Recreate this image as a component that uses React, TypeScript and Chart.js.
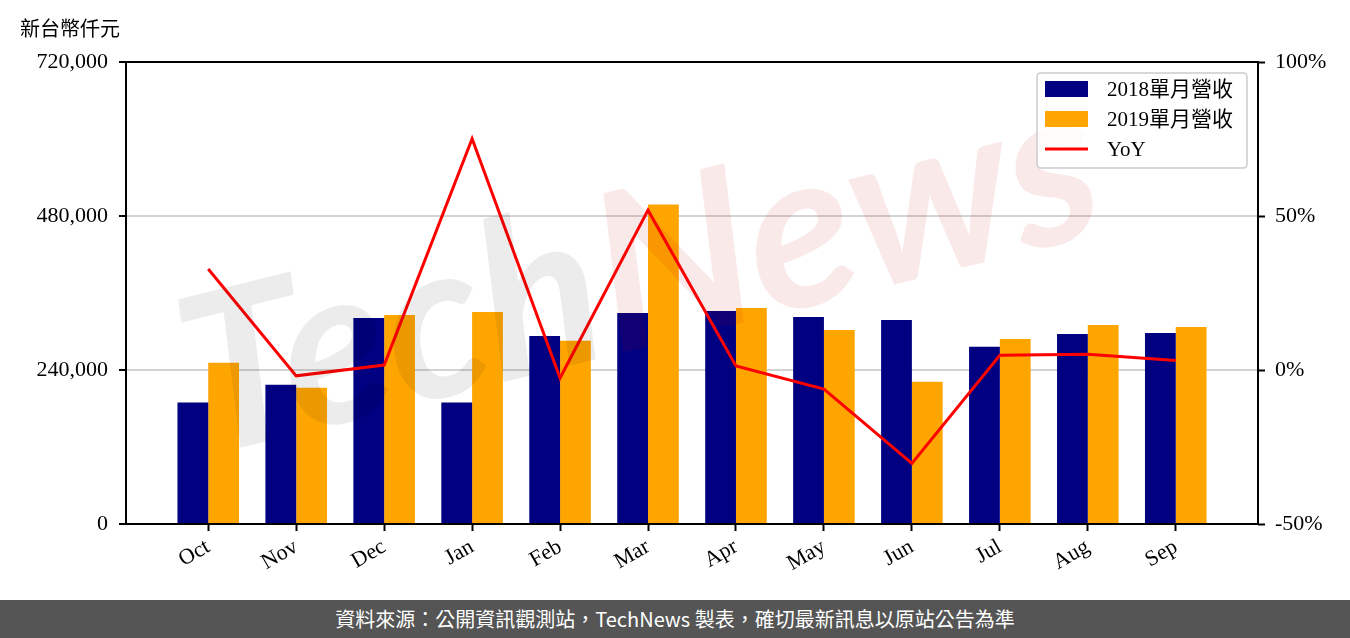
import React, { useEffect, useRef } from 'react';
import { Chart, registerables } from 'chart.js';

Chart.register(...registerables);

const MONTHS = ['Oct', 'Nov', 'Dec', 'Jan', 'Feb', 'Mar', 'Apr', 'May', 'Jun', 'Jul', 'Aug', 'Sep'];
const REV_2018 = [189200, 217100, 321100, 189200, 293100, 328800, 331900, 322600, 318000, 276100, 296200, 297800];
const REV_2019 = [251300, 212500, 325700, 330400, 285400, 497900, 336600, 302400, 221800, 288500, 310200, 307100];
const YOY = [32.8, -1.9, 1.6, 75.1, -2.6, 51.9, 1.3, -6.2, -30.3, 4.8, 5.1, 3.1];
const LEFT_TICKS = [0, 240000, 480000, 720000];
const RIGHT_TICKS = [-50, 0, 50, 100];
const SERIES_LABELS = ['2018單月營收', '2019單月營收', 'YoY'];
const UNIT_LABEL = '新台幣仟元';
const FOOTER_TEXT = '資料來源：公開資訊觀測站，TechNews 製表，確切最新訊息以原站公告為準';

const SERIF = "'Liberation Serif', 'Noto Sans CJK TC', serif";
const SANS = "'Noto Sans CJK TC', 'Noto Sans', sans-serif";

const watermarkPlugin = {
  id: 'watermark',
  afterDatasetsDraw(chart: any) {
    const { ctx, chartArea } = chart;
    ctx.save();
    ctx.beginPath();
    ctx.rect(chartArea.left, chartArea.top, chartArea.right - chartArea.left, chartArea.bottom - chartArea.top);
    ctx.clip();
    ctx.translate(640, 275);
    ctx.rotate((-14 * Math.PI) / 180);
    ctx.font = "italic bold 220px 'Lato', sans-serif";
    ctx.textBaseline = 'middle';
    const w1 = ctx.measureText('Tech').width;
    const w2 = ctx.measureText('News').width;
    const start = -(w1 + w2) / 2;
    ctx.fillStyle = 'rgba(0,0,0,0.075)';
    ctx.fillText('Tech', start, 0);
    ctx.fillStyle = 'rgba(200,0,0,0.085)';
    ctx.fillText('News', start + w1, 0);
    ctx.restore();
  },
};

const framePlugin = {
  id: 'frame',
  afterDatasetsDraw(chart: any) {
    const { ctx, chartArea } = chart;
    ctx.save();
    ctx.strokeStyle = '#000';
    ctx.lineWidth = 2;
    ctx.strokeRect(chartArea.left, chartArea.top, chartArea.right - chartArea.left, chartArea.bottom - chartArea.top);
    ctx.restore();
  },
};

const legendPlugin = {
  id: 'boxLegend',
  afterDraw(chart: any) {
    const { ctx, chartArea } = chart;
    const w = 210;
    const h = 95;
    const x = chartArea.right - 11 - w;
    const y = chartArea.top + 11;
    ctx.save();
    ctx.beginPath();
    const r = 4;
    ctx.moveTo(x + r, y);
    ctx.lineTo(x + w - r, y);
    ctx.quadraticCurveTo(x + w, y, x + w, y + r);
    ctx.lineTo(x + w, y + h - r);
    ctx.quadraticCurveTo(x + w, y + h, x + w - r, y + h);
    ctx.lineTo(x + r, y + h);
    ctx.quadraticCurveTo(x, y + h, x, y + h - r);
    ctx.lineTo(x, y + r);
    ctx.quadraticCurveTo(x, y, x + r, y);
    ctx.closePath();
    ctx.fillStyle = 'rgba(255,255,255,0.8)';
    ctx.fill();
    ctx.strokeStyle = '#cccccc';
    ctx.lineWidth = 1.5;
    ctx.stroke();
    ctx.font = `21px ${SERIF}`;
    ctx.textBaseline = 'middle';
    ctx.fillStyle = '#000';
    chart.data.datasets.forEach((ds: any, i: number) => {
      const cy = y + 16 + i * 30;
      if (ds.type === 'line') {
        ctx.strokeStyle = ds.borderColor;
        ctx.lineWidth = 3;
        ctx.beginPath();
        ctx.moveTo(x + 8, cy);
        ctx.lineTo(x + 51, cy);
        ctx.stroke();
      } else {
        ctx.fillStyle = ds.backgroundColor;
        ctx.fillRect(x + 8, cy - 8, 43, 16);
      }
      ctx.fillStyle = '#000';
      ctx.fillText(ds.label, x + 70, cy + 1);
    });
    ctx.restore();
  },
};

export default function App() {
  const ref = useRef<HTMLCanvasElement | null>(null);

  useEffect(() => {
    if (!ref.current) return;
    const chart = new Chart(ref.current, {
      type: 'bar',
      data: {
        datasets: [
          {
            type: 'bar',
            label: SERIES_LABELS[0],
            data: REV_2018.map((v, i) => ({ x: i, y: v })),
            backgroundColor: '#000080',
            yAxisID: 'y',
            categoryPercentage: 0.7,
            barPercentage: 1.0,
            order: 2,
          },
          {
            type: 'bar',
            label: SERIES_LABELS[1],
            data: REV_2019.map((v, i) => ({ x: i, y: v })),
            backgroundColor: '#FFA500',
            yAxisID: 'y',
            categoryPercentage: 0.7,
            barPercentage: 1.0,
            order: 2,
          },
          {
            type: 'line',
            label: SERIES_LABELS[2],
            data: YOY.map((v, i) => ({ x: i, y: v })),
            borderColor: '#FF0000',
            backgroundColor: '#FF0000',
            borderWidth: 3,
            pointRadius: 0,
            tension: 0,
            yAxisID: 'y1',
            order: 1,
          },
        ] as any,
      },
      options: {
        animation: false,
        responsive: false,
        devicePixelRatio: 1,
        layout: { padding: { top: 62, left: 0, right: 0, bottom: 0 } },
        plugins: {
          legend: { display: false },
          tooltip: { enabled: false },
          title: { display: false },
        },
        scales: {
          x: {
            type: 'linear',
            min: -0.935,
            max: 11.935,
            offset: false,
            afterBuildTicks: (s: any) => {
              s.ticks = MONTHS.map((_, i) => ({ value: i }));
            },
            afterFit: (s: any) => {
              s.height = 76;
            },
            border: { display: false },
            grid: {
              offset: false,
              drawOnChartArea: false,
              drawTicks: true,
              tickLength: 7,
              tickWidth: 2,
              tickColor: '#000',
            },
            ticks: {
              autoSkip: false,
              minRotation: 30,
              maxRotation: 30,
              padding: 3,
              color: '#000',
              font: { family: SERIF, size: 22 },
              callback: (v: any) => MONTHS[Math.round(Number(v))] ?? '',
            },
          },
          y: {
            type: 'linear',
            position: 'left',
            min: 0,
            max: 720000,
            afterBuildTicks: (s: any) => {
              s.ticks = LEFT_TICKS.map((v) => ({ value: v }));
            },
            afterFit: (s: any) => {
              s.width = 126;
            },
            border: { display: false },
            grid: {
              color: '#d3d3d3',
              lineWidth: 2,
              tickLength: 7,
              tickWidth: 2,
              tickColor: '#000',
            },
            ticks: {
              padding: 11,
              color: '#000',
              font: { family: SERIF, size: 22 },
              callback: (v: any) => Number(v).toLocaleString('en-US'),
            },
          },
          y1: {
            type: 'linear',
            position: 'right',
            min: -50,
            max: 100,
            afterBuildTicks: (s: any) => {
              s.ticks = RIGHT_TICKS.map((v) => ({ value: v }));
            },
            afterFit: (s: any) => {
              s.width = 92;
            },
            border: { display: false },
            grid: {
              drawOnChartArea: false,
              tickLength: 7,
              tickWidth: 2,
              tickColor: '#000',
            },
            ticks: {
              padding: 10,
              color: '#000',
              font: { family: SERIF, size: 22 },
              callback: (v: any) => `${v}%`,
            },
          },
        },
      } as any,
      plugins: [watermarkPlugin, framePlugin, legendPlugin],
    });
    return () => chart.destroy();
  }, []);

  return (
    <div
      lang="zh-TW"
      style={{ position: 'fixed', left: 0, top: 0, width: 1350, height: 638, background: '#fff', overflow: 'hidden' }}
    >
      <div
        style={{
          position: 'absolute',
          left: 20,
          top: 14,
          fontFamily: SANS,
          fontSize: 20,
          lineHeight: '28px',
          color: '#000',
          fontWeight: 400,
        }}
      >
        {UNIT_LABEL}
      </div>
      <canvas ref={ref} width={1350} height={600} style={{ display: 'block', width: 1350, height: 600 }} />
      <div
        lang="zh-TW"
        style={{
          position: 'absolute',
          left: 0,
          top: 600,
          width: 1350,
          height: 38,
          background: '#555555',
          color: '#fff',
          fontFamily: SANS,
          fontSize: 20,
          fontWeight: 400,
          lineHeight: '38px',
          textAlign: 'center',
        }}
      >
        {FOOTER_TEXT}
      </div>
    </div>
  );
}
